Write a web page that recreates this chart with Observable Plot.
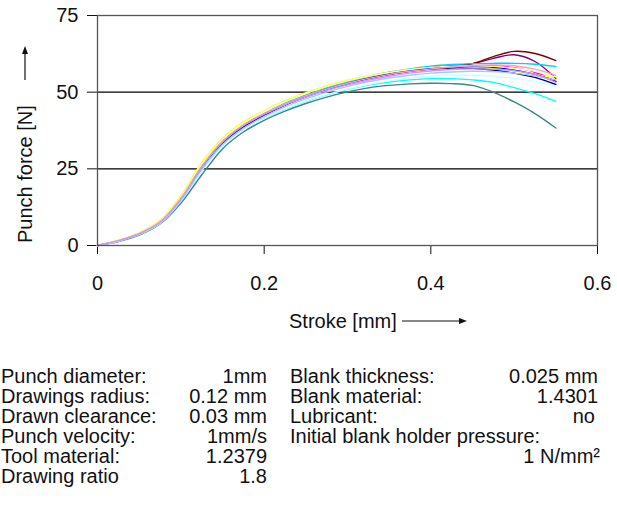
<!DOCTYPE html>
<html><head><meta charset="utf-8">
<script src="https://cdn.jsdelivr.net/npm/d3@7"></script>
<script src="https://cdn.jsdelivr.net/npm/@observablehq/plot@0.6"></script>
<style>
body{margin:0;background:#fff;font-family:"Liberation Sans",Arial,sans-serif;color:#111;}
#wrap{position:relative;width:617px;height:505px;overflow:hidden;}
.t{position:absolute;font-size:20px;line-height:20px;white-space:nowrap;}
.r{text-align:right;}
</style></head><body><div id="wrap"></div>
<script>
const stroke = [0,0.025,0.05,0.075,0.1,0.125,0.15,0.175,0.2,0.225,0.25,0.275,0.3,0.325,0.35,0.375,0.4,0.425,0.45,0.475,0.5,0.525,0.55];
const xTicks = [0,0.2,0.4,0.6];
const yTicks = [0,25,50,75];
const gridValues = [25,50];

const seriesNames = ["Run 1","Run 2","Run 3","Run 4","Run 5","Run 6","Run 7","Run 8","Run 9","Run 10","Run 11","Run 12","Run 13","Run 14"];
const seriesColors = ["#000080","#FF00FF","#FFFF00","#00FFFF","#800080","#800000","#3f8585","#0000FF","#00CCFF","#CCFFFF","#FFFF99","#99CCFF","#FF99CC","#CC99FF"];

const run1  = [0,1.5,3.7,7.3,14.6,25,33.3,38.7,42.6,45.9,48.6,51,53,54.6,55.8,56.8,57.5,57.9,57.8,57.2,56.2,54.8,52.5];
const run2  = [0,1.5,3.8,7.5,15,25.5,33.8,39,42.8,46,48.6,50.9,52.8,54.4,55.7,56.8,57.6,58.2,58.6,58.6,58,56.5,53.5];
const run3  = [0,1.7,4.2,8.2,16.2,27,35,40.3,44,47.2,49.8,52,53.9,55.4,56.6,57.5,58.1,58.4,58.3,57.9,56.9,55.8,54.5];
const run4  = [0,1.4,3.6,7.2,14.3,24.5,32.6,37.9,41.6,44.5,47,49.1,50.9,52.3,53.3,54,54.4,54.4,54,53.2,51.5,49.5,47];
const run5  = [0,1.5,3.7,7.4,14.8,25.2,33.4,38.7,42.5,45.8,48.5,50.8,52.8,54.4,55.8,56.9,57.8,58.6,59.3,61,62.2,60,54.5];
const run6  = [0,1.5,3.8,7.5,14.9,25.2,33.5,38.8,42.7,45.9,48.6,50.9,52.9,54.6,56,57.1,58,58.6,59.3,61.6,63.3,62.6,60.3];
const run7  = [0,1.3,3.4,7,13.8,23,31.5,37,40.8,43.8,46.3,48.4,50.1,51.4,52.2,52.7,52.9,52.8,52.2,50,46.8,43,38.3];
const run8  = [0,1.5,3.8,7.5,15,25.3,33.6,39,42.8,46,48.7,51,52.9,54.5,55.9,57,57.8,58.3,58.4,58.1,57.2,55.8,53.5];
const run9  = [0,1.6,3.9,7.7,15.3,25.7,33.8,39.2,43,46.3,49,51.4,53.4,55.1,56.5,57.6,58.5,59,59.3,59.4,59.4,59.1,58.4];
const run10 = [0,1.4,3.6,7.2,14.4,24.4,32.5,37.8,41.6,44.6,47.1,49.2,51,52.5,53.7,54.6,55.2,55.5,55.5,55.2,54.5,53.5,52];
const run11 = [0,1.7,4.1,8,15.8,26.5,34.6,40,43.8,47,49.6,51.8,53.7,55.2,56.4,57.4,58.1,58.5,58.6,58.4,57.8,56.8,55];
const run12 = [0,1.5,3.7,7.3,14.6,24.8,32.9,38.2,42,45.2,47.8,50,51.9,53.4,54.6,55.5,56.2,56.6,56.8,56.7,56.2,55.3,54];
const run13 = [0,1.6,3.9,7.7,15.4,25.8,34,39.3,43,46.2,48.8,51,52.9,54.5,55.8,56.8,57.6,58.2,58.7,58.9,58.6,57.5,55.5];
const run14 = [0,1.6,3.9,7.6,15.2,25.6,33.8,39.1,42.8,45.9,48.4,50.6,52.4,53.9,55.2,56.2,56.9,57.4,57.6,57.5,57,55.8,53.2];
const runs = [run1,run2,run3,run4,run5,run6,run7,run8,run9,run10,run11,run12,run13,run14];

const leftLabels = ["Punch diameter:","Drawings radius:","Drawn clearance:","Punch velocity:","Tool material:","Drawing ratio"];
const leftValues = ["1mm","0.12 mm","0.03 mm","1mm/s","1.2379","1.8"];
const rightLabels = ["Blank thickness:","Blank material:","Lubricant:","Initial blank holder pressure:"];
const rightValues = ["0.025 mm","1.4301","no","",""];
const extraValue = "1 N/mm²";

const rows = [];
runs.forEach((vals, i) => vals.forEach((v, j) => rows.push({stroke: stroke[j], force: v, run: seriesNames[i]})));

const plot = Plot.plot({
  width: 617, height: 345,
  marginTop: 15, marginRight: 20, marginBottom: 100, marginLeft: 97,
  style: {fontFamily: "'Liberation Sans', Arial, sans-serif", fontSize: "20px", color: "#111", background: "white"},
  x: {domain: [0, 0.6], ticks: xTicks, tickFormat: d => String(d), tickSize: 9, tickPadding: 21, label: null},
  y: {domain: [0, 75], ticks: yTicks, tickSize: 10, tickPadding: 9, label: null},
  color: {domain: seriesNames, range: seriesColors},
  marks: [
    Plot.ruleY(gridValues, {stroke: "#000", strokeWidth: 1.3}),
    Plot.line(rows, {x: "stroke", y: "force", z: "run", stroke: "run", strokeWidth: 1.4, curve: "catmull-rom"}),
    Plot.frame({stroke: "#555", strokeWidth: 1.3})
  ]
});

const wrap = document.getElementById("wrap");
wrap.appendChild(plot);

const svg = d3.select(plot);
svg.append("text").attr("transform", "translate(25,243) rotate(-90)")
  .attr("text-anchor", "start").attr("dominant-baseline", "central")
  .attr("font-size", 20).attr("fill", "#111").text("Punch force [N]");
svg.append("line").attr("x1", 25).attr("x2", 25).attr("y1", 80).attr("y2", 52).attr("stroke", "#111").attr("stroke-width", 1.2);
svg.append("path").attr("d", "M25,46 L22,54 L28,54 Z").attr("fill", "#111");
svg.append("text").attr("x", 289).attr("y", 321)
  .attr("text-anchor", "start").attr("dominant-baseline", "central")
  .attr("font-size", 20).attr("fill", "#111").text("Stroke [mm]");
svg.append("line").attr("x1", 402).attr("x2", 461).attr("y1", 321).attr("y2", 321).attr("stroke", "#111").attr("stroke-width", 1.2);
svg.append("path").attr("d", "M467,321 L459,318 L459,324 Z").attr("fill", "#111");

function addText(txt, top, left, width, right) {
  const d = document.createElement("div");
  d.className = "t" + (right ? " r" : "");
  d.style.top = top + "px";
  d.style.left = left + "px";
  if (width) d.style.width = width + "px";
  d.textContent = txt;
  wrap.appendChild(d);
}
const top0 = 365.5, step = 20;
leftLabels.forEach((l, i) => addText(l, top0 + i * step, 1, null, false));
leftValues.forEach((v, i) => addText(v, top0 + i * step, 0, 267, true));
rightLabels.forEach((l, i) => addText(l, top0 + i * step, 290, null, false));
rightValues.forEach((v, i) => { if (v) addText(v, top0 + i * step, 300, v === "no" ? 295 : 298, true); });
addText(extraValue, top0 + 4 * step, 300, 300, true);
</script>
</body></html>
